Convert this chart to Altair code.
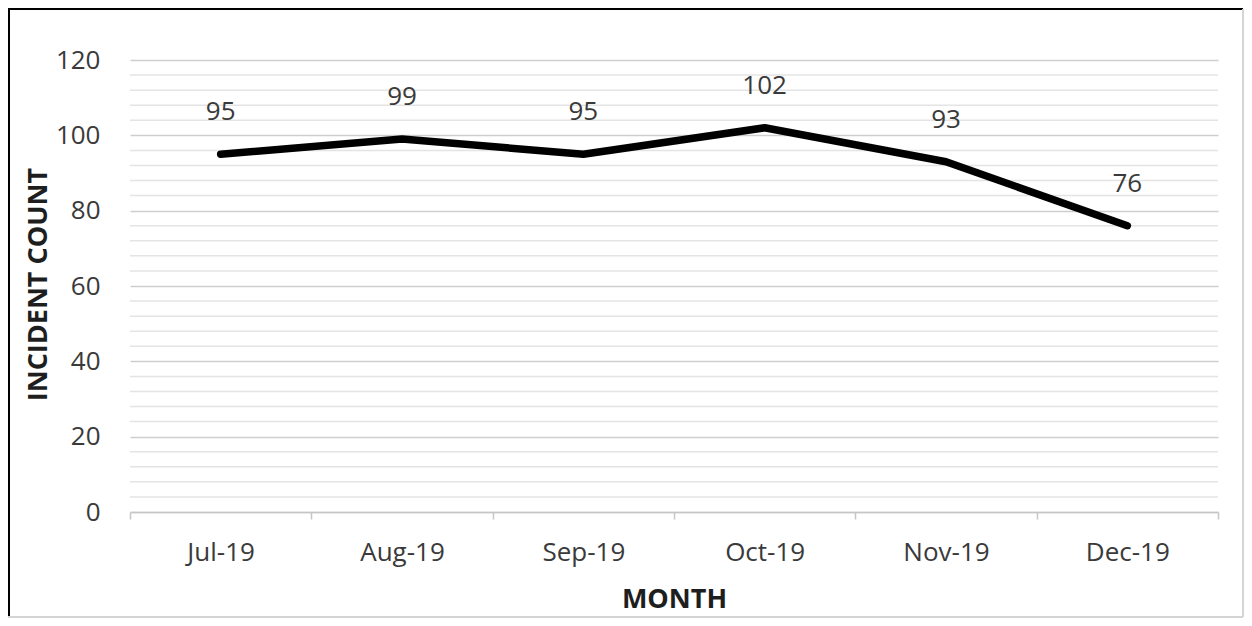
import altair as alt
import pandas as pd

months = ["Jul-19", "Aug-19", "Sep-19", "Oct-19", "Nov-19", "Dec-19"]
counts = [95, 99, 95, 102, 93, 76]
major_ticks = [0, 20, 40, 60, 80, 100, 120]
minor_ticks = [v for v in range(0, 121, 4) if v % 20 != 0]

df = pd.DataFrame({"month": months, "count": counts})
minor_df = pd.DataFrame({"v": minor_ticks})

FONT = "Open Sans"
LABEL_COLOR = "#3a3a3a"
TITLE_COLOR = "#1e1e1e"

W, H = 1088, 452
PAD_L, PAD_T, PAD_R, PAD_B = 122, 52, 26, 106

y_scale = alt.Scale(domain=[0, 120], nice=False)

x_enc = alt.X(
    "month:N",
    sort=months,
    scale=alt.Scale(type="band", paddingInner=0, paddingOuter=0),
    axis=alt.Axis(
        title="MONTH",
        tickBand="extent",
        grid=False,
        domainColor="#c6c6c6",
        domainWidth=1.5,
        tickColor="#c6c6c6",
        tickWidth=1.5,
        tickSize=7,
        labelAngle=0,
        labelPadding=20,
        labelFont=FONT,
        labelFontSize=26,
        labelColor=LABEL_COLOR,
        titleFont=FONT,
        titleFontSize=27,
        titleFontWeight="bold",
        titleColor=TITLE_COLOR,
        titleBaseline="middle",
        titleAlign="center",
        titleX=W / 2,
        titleY=87,
    ),
)

y_enc = alt.Y(
    "count:Q",
    scale=y_scale,
    axis=alt.Axis(
        title="INCIDENT COUNT",
        values=major_ticks,
        labelOverlap=False,
        ticks=False,
        tickSize=0,
        domain=False,
        grid=True,
        gridColor="#cecece",
        gridWidth=1.5,
        labelPadding=30,
        labelFont=FONT,
        labelFontSize=26,
        labelColor=LABEL_COLOR,
        titleFont=FONT,
        titleFontSize=27,
        titleFontWeight="bold",
        titleColor=TITLE_COLOR,
        titleAngle=-90,
        titleBaseline="middle",
        titleAlign="center",
        titleX=-92,
        titleY=224,
    ),
)

base = alt.Chart(df)

minor_grid = alt.Chart(minor_df).mark_rule(color="#e4e4e4", strokeWidth=1.5).encode(
    y=alt.Y("v:Q", scale=y_scale), x=alt.value(0), x2=alt.value(W)
)

line = base.mark_line(
    color="#000000", strokeWidth=7.5, strokeCap="round", strokeJoin="round"
).encode(x=x_enc, y=y_enc)

labels = base.mark_text(
    dy=-42, fontSize=26, font=FONT, color=LABEL_COLOR, baseline="middle"
).encode(x=alt.X("month:N", sort=months), y=alt.Y("count:Q", scale=y_scale), text="count:Q")

# outer chart border (decoration)
border_l = base.mark_rule(color="#000000", strokeWidth=2).encode(
    x=alt.value(-121), y=alt.value(-51), y2=alt.value(H + PAD_B - 1)
)
border_t = base.mark_rule(color="#000000", strokeWidth=2).encode(
    x=alt.value(-122), x2=alt.value(W + PAD_R - 1), y=alt.value(-51)
)
border_r = base.mark_rule(color="#d4d4d4", strokeWidth=1.5).encode(
    x=alt.value(W + PAD_R - 1), y=alt.value(-51), y2=alt.value(H + PAD_B - 1)
)
border_b = base.mark_rule(color="#d4d4d4", strokeWidth=1.5).encode(
    x=alt.value(-122), x2=alt.value(W + PAD_R - 1), y=alt.value(H + PAD_B - 1)
)

chart = (
    alt.layer(minor_grid, line, labels, border_l, border_t, border_r, border_b)
    .properties(
        width=W,
        height=H,
        autosize=alt.AutoSizeParams(type="none"),
        padding={"left": PAD_L, "top": PAD_T, "right": PAD_R, "bottom": PAD_B},
        background="#ffffff",
    )
    .configure_view(stroke=None)
)

chart.save("out.html", embed_options={"renderer": "svg", "actions": False})
